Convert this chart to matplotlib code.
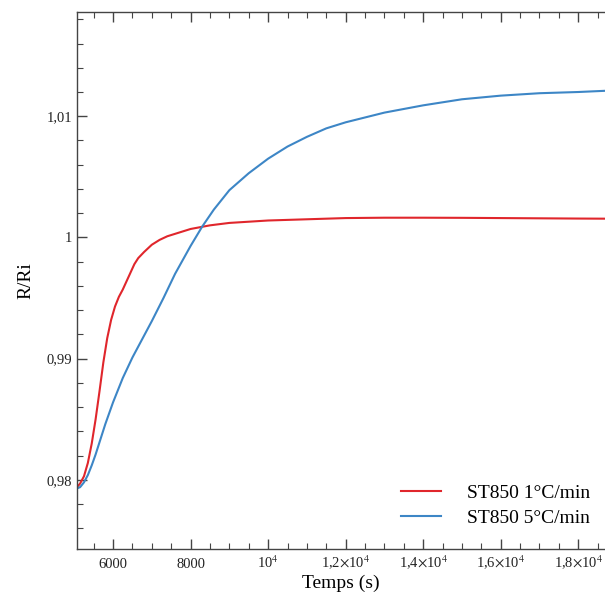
import numpy as np
import matplotlib
matplotlib.use("Agg")
import matplotlib.pyplot as plt
from matplotlib.ticker import FixedLocator, MultipleLocator

plt.rcParams['font.family'] = ['Liberation Serif', 'DejaVu Serif']
plt.rcParams['mathtext.fontset'] = 'stix'

# Data
time_1c = [5070, 5150, 5250, 5350, 5450, 5550, 5650, 5750, 5850, 5950, 6050, 6150,
           6250, 6350, 6450, 6550, 6650, 6800, 7000, 7200, 7400, 7600, 7800, 8000,
           8500, 9000, 10000, 11000, 12000, 13000, 14000, 15000, 16000, 17000,
           18000, 18700]
ratio_1c = [0.9794, 0.9797, 0.9803, 0.9814, 0.9830, 0.9850, 0.9873, 0.9897, 0.9917,
            0.9932, 0.9943, 0.9951, 0.9957, 0.9964, 0.9971, 0.9978, 0.9983, 0.9988,
            0.9994, 0.9998, 1.0001, 1.0003, 1.0005, 1.0007, 1.0010, 1.0012, 1.0014,
            1.0015, 1.0016, 1.00163, 1.00163, 1.00162, 1.0016, 1.00158, 1.00156,
            1.00155]

time_5c = [5070, 5150, 5250, 5350, 5450, 5550, 5650, 5800, 6000, 6250, 6500, 6750,
           7000, 7300, 7600, 8000, 8300, 8600, 9000, 9500, 10000, 10500, 11000,
           11500, 12000, 13000, 14000, 15000, 16000, 17000, 18000, 18700]
ratio_5c = [0.9793, 0.9794, 0.9798, 0.9804, 0.9812, 0.9821, 0.9831, 0.9846, 0.9864,
            0.9884, 0.9901, 0.9916, 0.9931, 0.9950, 0.9970, 0.9993, 1.0009, 1.0023,
            1.0039, 1.0053, 1.0065, 1.0075, 1.0083, 1.0090, 1.0095, 1.0103, 1.0109,
            1.0114, 1.0117, 1.0119, 1.0120, 1.0121]

labels = ['ST850 1°C/min', 'ST850 5°C/min']
x_ticks = [6000, 8000, 10000, 12000, 14000, 16000, 18000]
x_tick_labels = ['6000', '8000', r'10$^{4}$', r'1,2$\times$10$^{4}$',
                 r'1,4$\times$10$^{4}$', r'1,6$\times$10$^{4}$', r'1,8$\times$10$^{4}$']
y_ticks = [0.98, 0.99, 1.0, 1.01]
y_tick_labels = ['0,98', '0,99', '1', '1,01']

fig = plt.figure(figsize=(6.05, 6.06), dpi=100)
ax = fig.add_axes([77 / 605, 57 / 606, 1 - 77 / 605, (549 - 12) / 606])

ax.plot(time_1c, ratio_1c, color='#e0262c', lw=1.5, label=labels[0])
ax.plot(time_5c, ratio_5c, color='#3d86c6', lw=1.5, label=labels[1])

ax.set_xlim(5070, 18690)
ax.set_ylim(0.9743, 1.0186)

ax.xaxis.set_major_locator(FixedLocator(x_ticks))
ax.set_xticklabels(x_tick_labels, va='baseline')
ax.xaxis.set_minor_locator(MultipleLocator(500))
ax.yaxis.set_major_locator(FixedLocator(y_ticks))
ax.set_yticklabels(y_tick_labels)
ax.yaxis.set_minor_locator(MultipleLocator(0.002))

ax.tick_params(which='both', direction='in', top=True, right=False, color='#444444',
               labelsize=10.5, labelcolor='#222222')
ax.tick_params(which='major', length=7, width=1)
ax.tick_params(which='minor', length=4, width=0.8)
ax.tick_params(axis='x', pad=13.5)
ax.tick_params(axis='y', pad=3.5)

for side in ['left', 'bottom', 'top']:
    ax.spines[side].set_color('#444444')
    ax.spines[side].set_linewidth(1)
ax.spines['right'].set_visible(False)

ax.set_xlabel('Temps (s)', fontsize=14, labelpad=2)
ax.set_ylabel('R/Ri', fontsize=14, labelpad=9)

ax.legend(loc='lower right', bbox_to_anchor=(0.975, 0.13), bbox_transform=fig.transFigure,
          frameon=False, fontsize=14, handlelength=2.1, handletextpad=1.3,
          labelspacing=0.4, borderpad=0, borderaxespad=0)

fig.savefig('out.png', dpi=100)
